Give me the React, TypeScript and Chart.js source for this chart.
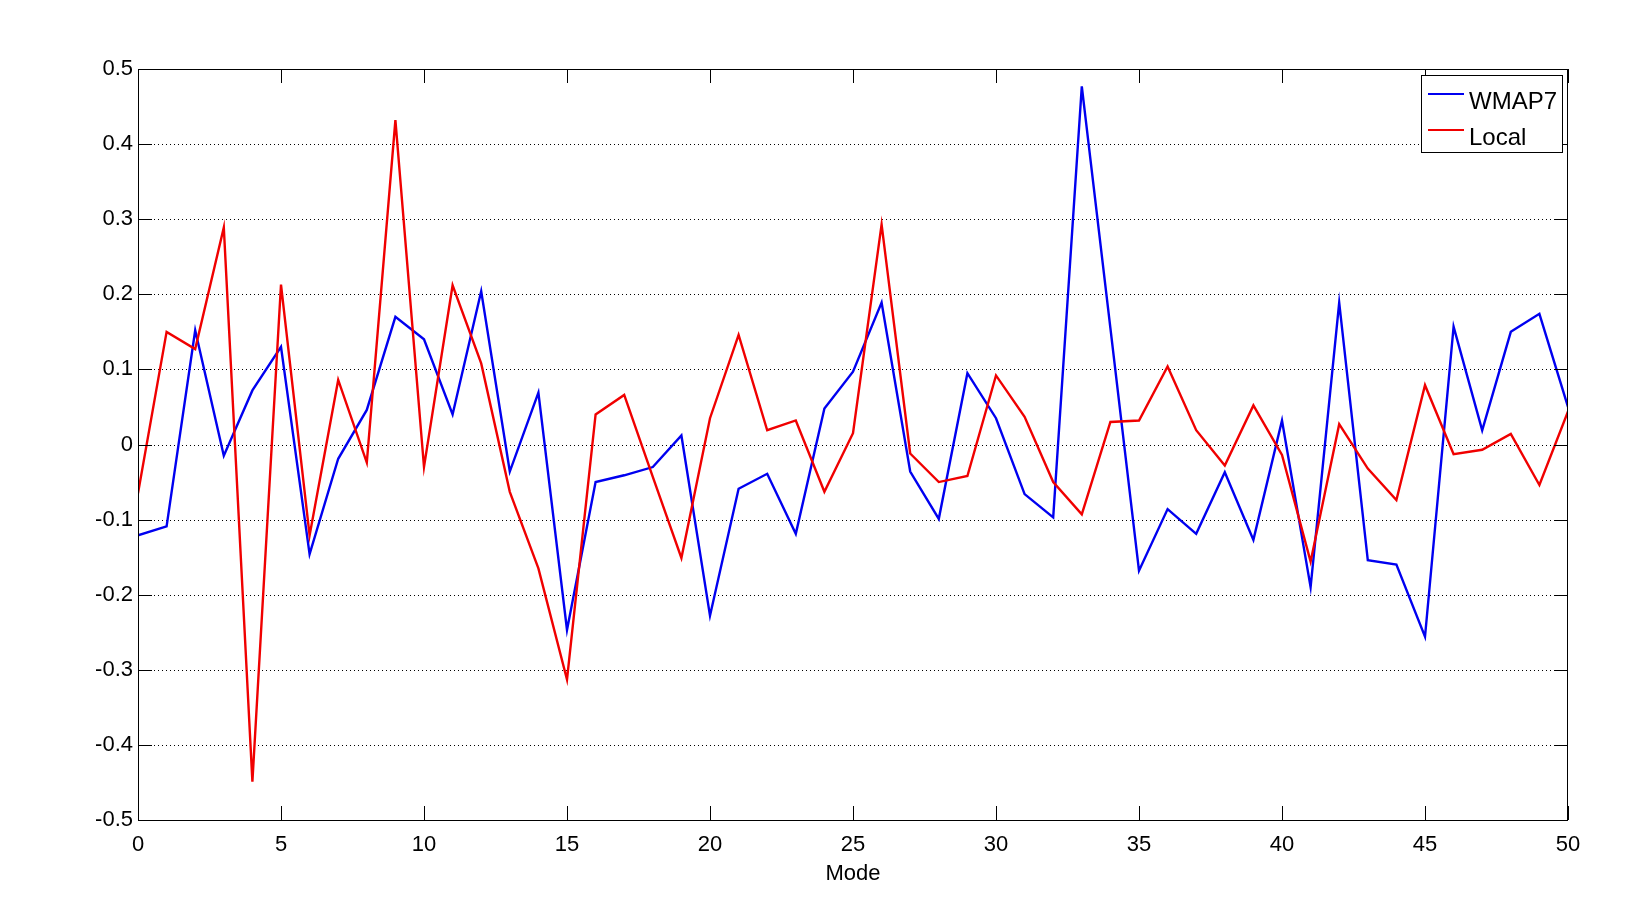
import React, { useEffect, useRef } from 'react';
import { Chart, registerables } from 'chart.js';

Chart.register(...registerables);

const modes = [0, 1, 2, 3, 4, 5, 6, 7, 8, 9, 10, 11, 12, 13, 14, 15, 16, 17, 18, 19, 20, 21, 22, 23, 24, 25, 26, 27, 28, 29, 30, 31, 32, 33, 34, 35, 36, 37, 38, 39, 40, 41, 42, 43, 44, 45, 46, 47, 48, 49, 50];

const wmap7 = [-0.121, -0.109, 0.152, -0.015, 0.072, 0.130, -0.146, -0.019, 0.046, 0.170, 0.140, 0.040, 0.204, -0.036, 0.069, -0.247, -0.050, -0.041, -0.030, 0.012, -0.228, -0.059, -0.039, -0.119, 0.048, 0.097, 0.189, -0.036, -0.099, 0.095, 0.035, -0.066, -0.097, 0.477, 0.155, -0.168, -0.086, -0.119, -0.037, -0.127, 0.032, -0.190, 0.189, -0.154, -0.160, -0.256, 0.157, 0.019, 0.150, 0.174, 0.050];

const local = [-0.065, 0.150, 0.127, 0.289, -0.449, 0.213, -0.121, 0.086, -0.024, 0.432, -0.030, 0.212, 0.108, -0.063, -0.165, -0.313, 0.040, 0.066, -0.043, -0.151, 0.035, 0.146, 0.019, 0.032, -0.063, 0.015, 0.293, -0.012, -0.050, -0.042, 0.092, 0.037, -0.050, -0.093, 0.030, 0.032, 0.104, 0.019, -0.028, 0.052, -0.014, -0.156, 0.027, -0.032, -0.074, 0.079, -0.013, -0.007, 0.014, -0.054, 0.044];

const xTicks = [0, 5, 10, 15, 20, 25, 30, 35, 40, 45, 50];
const yTicks = [-0.5, -0.4, -0.3, -0.2, -0.1, 0, 0.1, 0.2, 0.3, 0.4, 0.5];

const seriesLabels = ['WMAP7', 'Local'];
const seriesColors = ['#0000f0', '#f00000'];
const xTitle = 'Mode';

const FONT = '"Liberation Sans", Arial, Helvetica, sans-serif';

const matlabPlugin = {
  id: 'matlabFrame',
  beforeDatasetsDraw(chart: any) {
    const { ctx, chartArea: a, scales } = chart;
    const ys = scales.y;
    ctx.save();
    ctx.strokeStyle = '#000';
    ctx.lineWidth = 1;
    ctx.setLineDash([1, 3]);
    for (const v of yTicks) {
      if (Math.abs(v) >= 0.5) continue;
      const py = Math.round(ys.getPixelForValue(v)) + 0.5;
      ctx.beginPath();
      ctx.moveTo(a.left, py);
      ctx.lineTo(a.right, py);
      ctx.stroke();
    }
    ctx.restore();
  },
  afterDatasetsDraw(chart: any) {
    const { ctx, chartArea: a, scales } = chart;
    const xs = scales.x;
    const ys = scales.y;
    const tl = 14;
    ctx.save();
    ctx.strokeStyle = '#000';
    ctx.lineWidth = 1;
    ctx.setLineDash([]);
    ctx.strokeRect(a.left + 0.5, a.top + 0.5, a.right - a.left - 1, a.bottom - a.top);
    for (const v of xTicks) {
      const px = Math.round(xs.getPixelForValue(v)) + 0.5;
      ctx.beginPath();
      ctx.moveTo(px, a.bottom);
      ctx.lineTo(px, a.bottom - tl);
      ctx.moveTo(px, a.top);
      ctx.lineTo(px, a.top + tl);
      ctx.stroke();
    }
    for (const v of yTicks) {
      const py = Math.round(ys.getPixelForValue(v)) + 0.5;
      ctx.beginPath();
      ctx.moveTo(a.left, py);
      ctx.lineTo(a.left + tl, py);
      ctx.moveTo(a.right, py);
      ctx.lineTo(a.right - tl, py);
      ctx.stroke();
    }
    // legend
    const bw = 141;
    const bh = 77;
    const bx = a.right - 6 - bw;
    const by = a.top + 6;
    ctx.fillStyle = '#fff';
    ctx.fillRect(bx, by, bw, bh);
    ctx.strokeRect(bx + 0.5, by + 0.5, bw, bh);
    const datasets = chart.data.datasets;
    ctx.font = `24px ${FONT}`;
    ctx.textBaseline = 'alphabetic';
    ctx.textAlign = 'left';
    datasets.forEach((ds: any, i: number) => {
      const ly = by + 19 + i * 36;
      ctx.strokeStyle = ds.borderColor;
      ctx.lineWidth = 2;
      ctx.beginPath();
      ctx.moveTo(bx + 7, ly);
      ctx.lineTo(bx + 43, ly);
      ctx.stroke();
      ctx.fillStyle = '#000';
      ctx.fillText(ds.label, bx + 48, ly + 15);
    });
    ctx.restore();
  },
};

export default function App() {
  const ref = useRef<HTMLCanvasElement | null>(null);

  useEffect(() => {
    if (!ref.current) return;
    const seriesValues = [wmap7, local];
    const chart = new Chart(ref.current, {
      type: 'line',
      data: {
        datasets: seriesValues.map((vals, i) => ({
          label: seriesLabels[i],
          data: modes.map((m, k) => ({ x: m, y: vals[k] })),
          borderColor: seriesColors[i],
          backgroundColor: seriesColors[i],
          borderWidth: 2.4,
          pointRadius: 0,
          tension: 0,
          fill: false,
          order: i === 0 ? 1 : 0,
        })),
      },
      options: {
        responsive: false,
        animation: false,
        layout: { padding: { left: 0, top: 69, right: 79, bottom: 34 } },
        plugins: {
          legend: { display: false },
          tooltip: { enabled: false },
        },
        scales: {
          x: {
            type: 'linear',
            min: 0,
            max: 50,
            grid: { display: false, drawTicks: false },
            border: { display: false },
            afterFit: (s: any) => { s.height = 67; },
            afterBuildTicks: (s: any) => { s.ticks = xTicks.map((v) => ({ value: v })); },
            ticks: {
              autoSkip: false,
              maxRotation: 0,
              padding: 12,
              color: '#000',
              font: { family: FONT, size: 22 },
              callback: (v: any) => String(v),
            },
            title: {
              display: true,
              text: xTitle,
              color: '#000',
              padding: 0,
              font: { family: FONT, size: 22 },
            },
          },
          y: {
            type: 'linear',
            min: -0.5,
            max: 0.5,
            grid: { display: false, drawTicks: false },
            border: { display: false },
            afterFit: (s: any) => { s.width = 138; },
            afterBuildTicks: (s: any) => { s.ticks = yTicks.map((v) => ({ value: v })); },
            ticks: {
              autoSkip: false,
              padding: 5,
              color: '#000',
              font: { family: FONT, size: 22 },
              callback: (v: any) => String(Number(Number(v).toFixed(1))),
            },
          },
        },
      },
      plugins: [matlabPlugin],
    });
    return () => chart.destroy();
  }, []);

  return (
    <div style={{ position: 'absolute', left: 0, top: 0, width: 1647, height: 921, background: '#fff' }}>
      <canvas ref={ref} width={1647} height={921} />
    </div>
  );
}
